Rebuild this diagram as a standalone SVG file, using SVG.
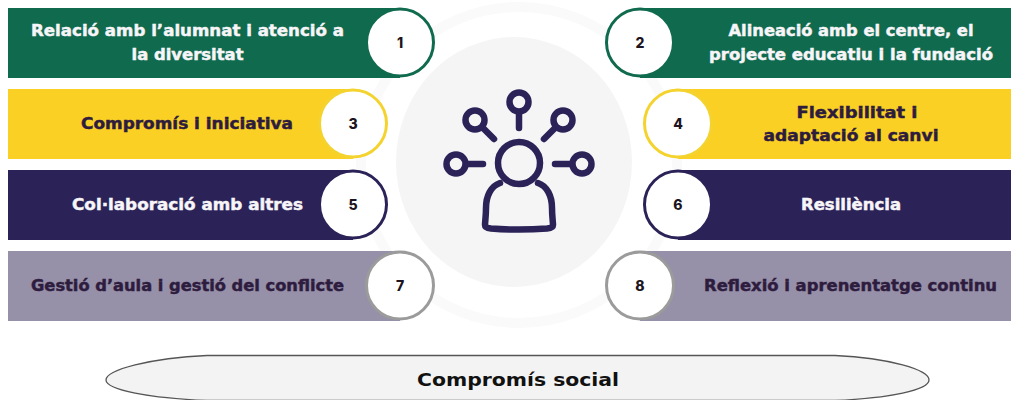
<svg xmlns="http://www.w3.org/2000/svg" width="1019" height="400" viewBox="0 0 1019 400">
<style>
.t{font-family:"DejaVu Sans","Liberation Sans",sans-serif;font-weight:700;font-size:15px;text-anchor:middle;stroke-width:.45}
.w{fill:#f7f5f8;stroke:#f7f5f8}.d{fill:#2e1c3e;stroke:#2e1c3e}
.n{font-family:"Inter","Liberation Sans",sans-serif;font-weight:800;font-size:14px;text-anchor:middle;fill:#1c1420}
.c{fill:#fff;stroke-width:3}
.i{fill:none;stroke:#2b2358;stroke-width:6.500;stroke-linecap:round;stroke-linejoin:round}
</style>
<rect width="1019" height="400" fill="#fff"/>
<g id="background">
<circle cx="519" cy="165" r="158" fill="none" stroke="#fafafa" stroke-width="10"/>
<ellipse cx="514" cy="162" rx="118" ry="125" fill="#f5f5f5"/>
</g>
<g id="icon" class="i">
<circle cx="519" cy="163" r="21"/>
<path d="M500 183C491 186 486 196 486 208C486 216 485 222 485 225C485 227 487 228 491 228.500C510 230 528 230 547 228.500C551 228 553 227 553 225C553 222 552 216 552 208C552 196 547 186 538 183"/>
<circle cx="519" cy="102" r="9.500"/><path d="M519 114V128"/>
<circle cx="475" cy="120" r="9.500"/><path d="M483 128L494 139"/>
<circle cx="563" cy="120" r="9.500"/><path d="M555 128L544 139"/>
<circle cx="456" cy="164" r="9.500"/><path d="M468 164H483"/>
<circle cx="582" cy="164" r="9.500"/><path d="M570 164H555"/>
</g>
<g id="node1">
<rect x="8" y="8" width="392" height="70" fill="#0f6a4e"/>
<circle class="c" cx="400" cy="42.500" r="33.500" stroke="#0f6a4e"/>
<text class="t w" x="187.500" y="36" textLength="313" lengthAdjust="spacingAndGlyphs">Relació amb l’alumnat i atenció a</text>
<text class="t w" x="187.500" y="60" textLength="112" lengthAdjust="spacingAndGlyphs">la diversitat</text>
<text class="n" x="400" y="48">1</text>
</g>
<g id="node2">
<rect x="640" y="8" width="371" height="70" fill="#0f6a4e"/>
<circle class="c" cx="640" cy="42.500" r="33.500" stroke="#0f6a4e"/>
<text class="t w" x="851" y="36" textLength="245" lengthAdjust="spacingAndGlyphs">Alineació amb el centre, el</text>
<text class="t w" x="851" y="60" textLength="284" lengthAdjust="spacingAndGlyphs">projecte educatiu i la fundació</text>
<text class="n" x="640" y="48">2</text>
</g>
<g id="node3">
<rect x="8" y="89" width="345" height="70" fill="#fbd025"/>
<circle class="c" cx="353" cy="123.500" r="33.500" stroke="#f4d32e"/>
<text class="t d" x="187" y="129" textLength="212" lengthAdjust="spacingAndGlyphs">Compromís i iniciativa</text>
<text class="n" x="353" y="129">3</text>
</g>
<g id="node4">
<rect x="678" y="89" width="333" height="70" fill="#fbd025"/>
<circle class="c" cx="678" cy="123.500" r="33.500" stroke="#f4d32e"/>
<text class="t d" x="857" y="118" textLength="121" lengthAdjust="spacingAndGlyphs">Flexibilitat i</text>
<text class="t d" x="851" y="141" textLength="175" lengthAdjust="spacingAndGlyphs">adaptació al canvi</text>
<text class="n" x="678" y="129">4</text>
</g>
<g id="node5">
<rect x="8" y="170" width="345" height="70" fill="#2b2358"/>
<circle class="c" cx="353" cy="204.500" r="33.500" stroke="#2b2358"/>
<text class="t w" x="187.500" y="210" textLength="231" lengthAdjust="spacingAndGlyphs">Col·laboració amb altres</text>
<text class="n" x="353" y="210">5</text>
</g>
<g id="node6">
<rect x="678" y="170" width="333" height="70" fill="#2b2358"/>
<circle class="c" cx="678" cy="204.500" r="33.500" stroke="#2b2358"/>
<text class="t w" x="851" y="210" textLength="100" lengthAdjust="spacingAndGlyphs">Resiliència</text>
<text class="n" x="678" y="210">6</text>
</g>
<g id="node7">
<rect x="8" y="251" width="392" height="70" fill="#9690a9"/>
<circle class="c" cx="400" cy="285.500" r="33.500" stroke="#9b9b9b"/>
<text class="t d" x="187.500" y="291" textLength="313" lengthAdjust="spacingAndGlyphs">Gestió d’aula i gestió del conflicte</text>
<text class="n" x="400" y="291">7</text>
</g>
<g id="node8">
<rect x="640" y="251" width="371" height="70" fill="#9690a9"/>
<circle class="c" cx="640" cy="285.500" r="33.500" stroke="#9b9b9b"/>
<text class="t d" x="850.500" y="291" textLength="293" lengthAdjust="spacingAndGlyphs">Reflexió i aprenentatge continu</text>
<text class="n" x="640" y="291">8</text>
</g>
<g id="node9">
<path d="M207 355.500H835C890 358 929 370 929 380C929 390 890 398 835 400.500H207C150 398 106 390 106 380C106 370 150 358 207 355.500Z" fill="#f3f3f3" stroke="#555" stroke-width="1.300"/>
<text x="518" y="386" text-anchor="middle" font-family="'DejaVu Sans','Liberation Sans',sans-serif" font-weight="700" font-size="18px" fill="#111" textLength="202" lengthAdjust="spacingAndGlyphs">Compromís social</text>
</g>
<g id="connectors"/>
</svg>
